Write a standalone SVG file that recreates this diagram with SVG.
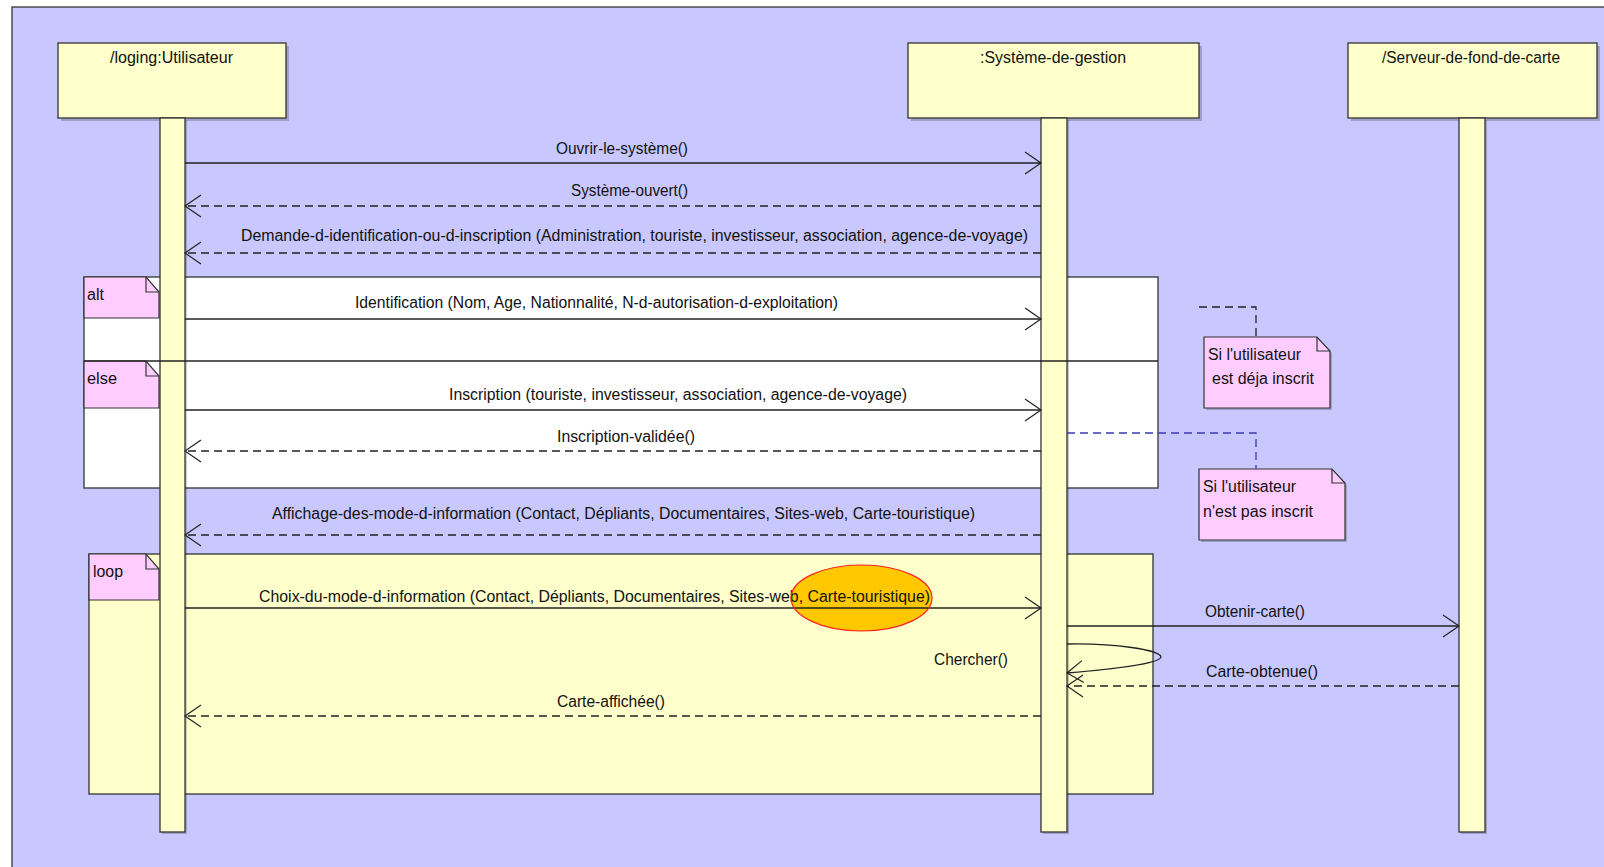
<svg xmlns="http://www.w3.org/2000/svg" width="1604" height="867" viewBox="0 0 1604 867">
<defs>
<style>
.t{font-family:"Liberation Sans",Arial,sans-serif;font-size:16px;fill:#111}
.box{fill:#FFFFCC;stroke:#333;stroke-width:1.3}
.shadow{fill:#000;opacity:0.2}
.tab{fill:#FFCCFF;stroke:#333;stroke-width:1.2}
.frag{stroke:#333;stroke-width:1.3}
.msg{stroke:#222;stroke-width:1.3;fill:none}
.dash{stroke-dasharray:8 5}
.arr{marker-end:url(#open)}
</style>
<marker id="open" markerUnits="userSpaceOnUse" markerWidth="20" markerHeight="26" viewBox="-18 -13 20 26" refX="0" refY="0" orient="auto" overflow="visible">
<path d="M-16,-11 L0,0 L-16,11" fill="none" stroke="#222" stroke-width="1.2"/>
</marker>
</defs>
<rect x="0" y="0" width="1604" height="867" fill="#fff"/>
<rect x="12" y="7" width="1600" height="870" fill="#C8C8FF" stroke="#333" stroke-width="1.3"/>

<g id="frag-alt">
<rect x="84" y="277" width="1074" height="211" fill="#fff" class="frag"/>
<path d="M84,277 H146 L159,292 V318 H84 Z" class="tab"/>
<path d="M146,277 V292 H159" fill="none" stroke="#333" stroke-width="1.2"/>
<text class="t" x="87" y="300" textLength="17" lengthAdjust="spacingAndGlyphs">alt</text>
<path d="M84,361 H146 L159,376 V408 H84 Z" class="tab"/>
<path d="M146,361 V376 H159" fill="none" stroke="#333" stroke-width="1.2"/>
<text class="t" x="87" y="384" textLength="30" lengthAdjust="spacingAndGlyphs">else</text>
</g>

<g id="frag-loop">
<rect x="89" y="554" width="1064" height="240" fill="#FFFFCC" class="frag"/>
<path d="M89,554 H146 L159,569 V600 H89 Z" class="tab"/>
<path d="M146,554 V569 H159" fill="none" stroke="#333" stroke-width="1.2"/>
<text class="t" x="93" y="577" textLength="30" lengthAdjust="spacingAndGlyphs">loop</text>
</g>

<g id="highlight">
<ellipse cx="861.5" cy="598" rx="70.5" ry="33" fill="#FFC800"/>
</g>

<g id="lifeline-utilisateur">
<rect x="61" y="46" width="228" height="75" class="shadow"/>
<rect x="58" y="43" width="228" height="75" class="box"/>
<text class="t" x="110" y="63" textLength="123" lengthAdjust="spacingAndGlyphs">/loging:Utilisateur</text>
<rect x="162" y="120" width="25" height="714" class="shadow"/>
<rect x="160" y="118" width="25" height="714" class="box"/>
</g>

<g id="lifeline-systeme">
<rect x="911" y="46" width="291" height="75" class="shadow"/>
<rect x="908" y="43" width="291" height="75" class="box"/>
<text class="t" x="980" y="63" textLength="146" lengthAdjust="spacingAndGlyphs">:Système-de-gestion</text>
<rect x="1043" y="120" width="26" height="714" class="shadow"/>
<rect x="1041" y="118" width="26" height="714" class="box"/>
</g>

<g id="lifeline-serveur">
<rect x="1351" y="46" width="249" height="75" class="shadow"/>
<rect x="1348" y="43" width="249" height="75" class="box"/>
<text class="t" x="1382" y="63" textLength="178" lengthAdjust="spacingAndGlyphs">/Serveur-de-fond-de-carte</text>
<rect x="1461" y="120" width="26" height="714" class="shadow"/>
<rect x="1459" y="118" width="26" height="714" class="box"/>
</g>

<g id="alt-separator">
<line x1="84" y1="361" x2="1158" y2="361" stroke="#222" stroke-width="1.4"/>
</g>

<g id="note-inscrit">
<path d="M1206,339 H1319 L1332,353 V410 H1206 Z" class="shadow"/>
<path d="M1204,337 H1317 L1330,351 V408 H1204 Z" class="tab"/>
<path d="M1317,337 V351 H1330" fill="none" stroke="#333" stroke-width="1.2"/>
<text class="t" x="1208" y="360" textLength="93" lengthAdjust="spacingAndGlyphs">Si l'utilisateur</text>
<text class="t" x="1212" y="384" textLength="102" lengthAdjust="spacingAndGlyphs">est déja inscrit</text>
</g>

<g id="note-pas-inscrit">
<path d="M1201,471 H1334 L1347,485 V542 H1201 Z" class="shadow"/>
<path d="M1199,469 H1332 L1345,483 V540 H1199 Z" class="tab"/>
<path d="M1332,469 V483 H1345" fill="none" stroke="#333" stroke-width="1.2"/>
<text class="t" x="1203" y="492" textLength="93" lengthAdjust="spacingAndGlyphs">Si l'utilisateur</text>
<text class="t" x="1203" y="517" textLength="110" lengthAdjust="spacingAndGlyphs">n'est pas inscrit</text>
</g>

<g id="connectors">
<path d="M1199,307 H1256 V337" class="msg dash"/>
<path d="M1067,433 H1256 V469" fill="none" stroke="#3A3AB0" stroke-width="1.3" class="dash"/>

<line x1="185" y1="163" x2="1041" y2="163" class="msg arr"/>
<text class="t" x="556" y="154" textLength="132" lengthAdjust="spacingAndGlyphs">Ouvrir-le-système()</text>

<line x1="1041" y1="206" x2="185" y2="206" class="msg dash arr"/>
<text class="t" x="571" y="196" textLength="117" lengthAdjust="spacingAndGlyphs">Système-ouvert()</text>

<line x1="1041" y1="253" x2="185" y2="253" class="msg dash arr"/>
<text class="t" x="241" y="241" textLength="787" lengthAdjust="spacingAndGlyphs">Demande-d-identification-ou-d-inscription (Administration, touriste, investisseur, association, agence-de-voyage)</text>

<line x1="185" y1="319" x2="1041" y2="319" class="msg arr"/>
<text class="t" x="355" y="308" textLength="483" lengthAdjust="spacingAndGlyphs">Identification (Nom, Age, Nationnalité, N-d-autorisation-d-exploitation)</text>

<line x1="185" y1="410" x2="1041" y2="410" class="msg arr"/>
<text class="t" x="449" y="400" textLength="458" lengthAdjust="spacingAndGlyphs">Inscription (touriste, investisseur, association, agence-de-voyage)</text>

<line x1="1041" y1="451" x2="185" y2="451" class="msg dash arr"/>
<text class="t" x="557" y="442" textLength="138" lengthAdjust="spacingAndGlyphs">Inscription-validée()</text>

<line x1="1041" y1="535" x2="185" y2="535" class="msg dash arr"/>
<text class="t" x="272" y="519" textLength="703" lengthAdjust="spacingAndGlyphs">Affichage-des-mode-d-information (Contact, Dépliants, Documentaires, Sites-web, Carte-touristique)</text>

<line x1="185" y1="608" x2="1041" y2="608" class="msg arr"/>
<text class="t" x="259" y="602" textLength="671" lengthAdjust="spacingAndGlyphs">Choix-du-mode-d-information (Contact, Dépliants, Documentaires, Sites-web, Carte-touristique)</text>
<ellipse cx="861.5" cy="598" rx="70.5" ry="33" fill="none" stroke="#FF2020" stroke-width="1.2"/>

<line x1="1067" y1="626" x2="1459" y2="626" class="msg arr"/>
<text class="t" x="1205" y="617" textLength="100" lengthAdjust="spacingAndGlyphs">Obtenir-carte()</text>

<path d="M1067,644 C1115,643 1160,650 1161,657 C1160,664 1112,669 1067,673" class="msg arr"/>
<text class="t" x="934" y="665" textLength="74" lengthAdjust="spacingAndGlyphs">Chercher()</text>

<line x1="1459" y1="686" x2="1067" y2="686" class="msg dash arr"/>
<text class="t" x="1206" y="677" textLength="112" lengthAdjust="spacingAndGlyphs">Carte-obtenue()</text>

<line x1="1041" y1="716" x2="185" y2="716" class="msg dash arr"/>
<text class="t" x="557" y="707" textLength="108" lengthAdjust="spacingAndGlyphs">Carte-affichée()</text>
</g>
</svg>
